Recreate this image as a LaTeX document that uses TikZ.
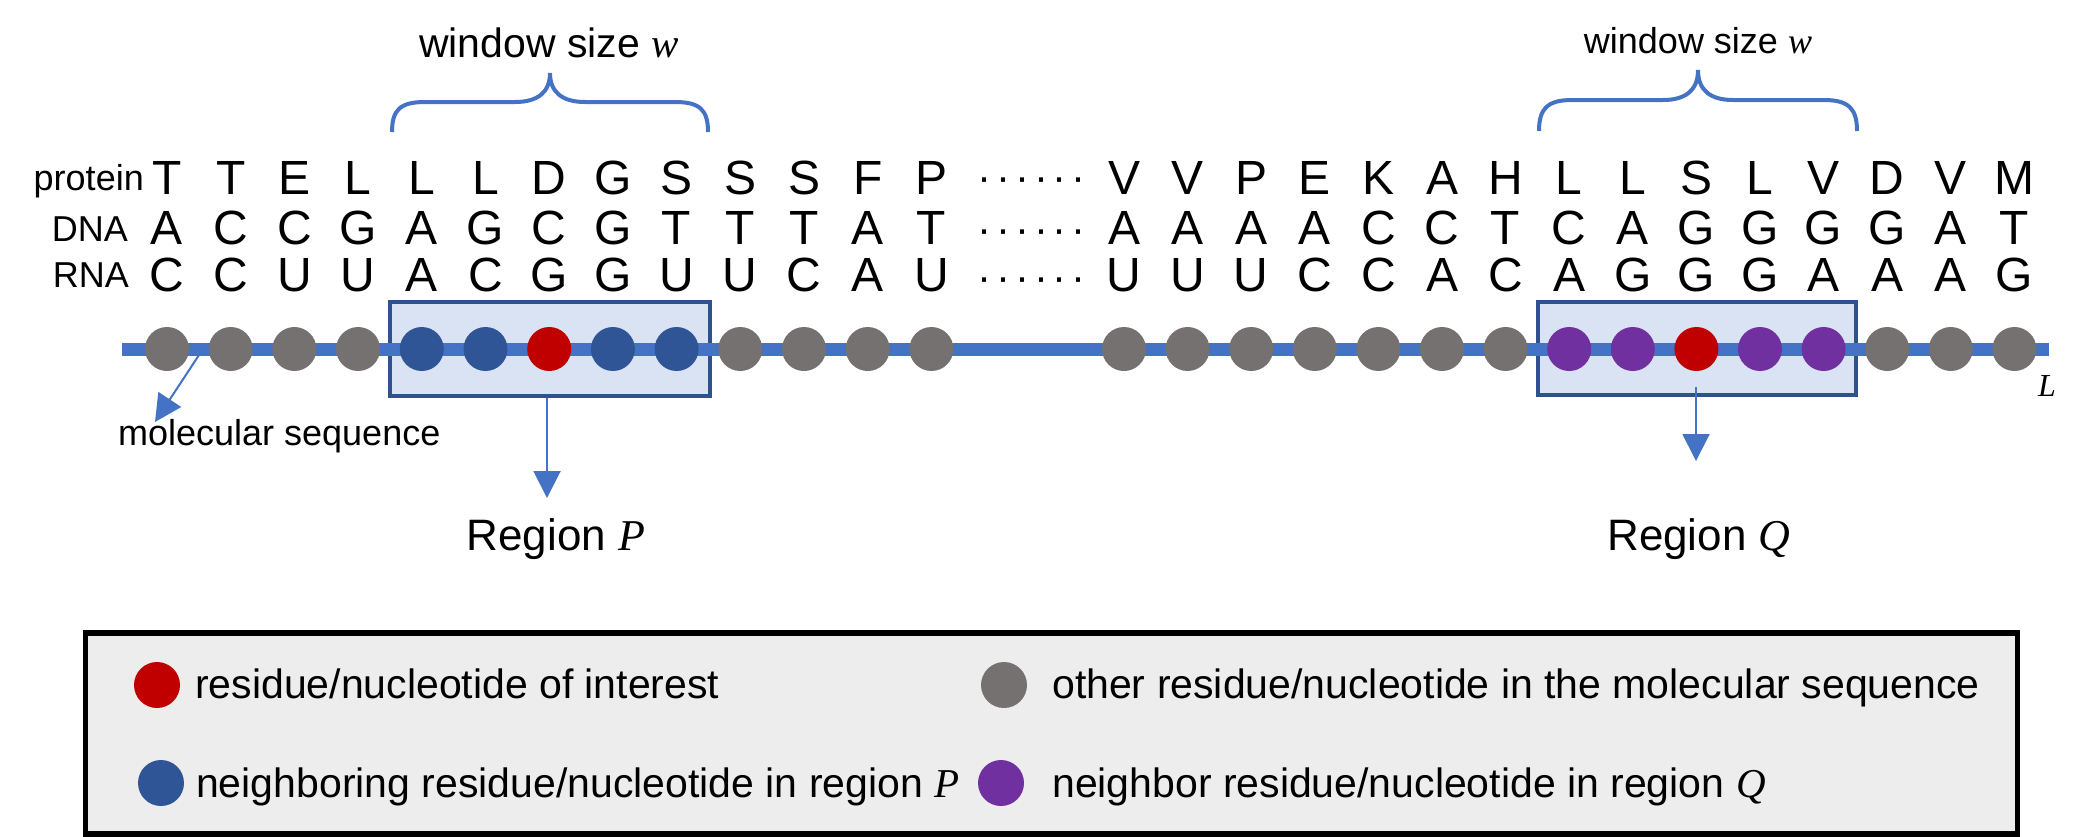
\documentclass[tikz,border=0pt]{standalone}
\usepackage{fontspec}
\setmainfont{Liberation Sans}
\newfontfamily\tmsfont{Liberation Serif}
\usetikzlibrary{arrows.meta}
\definecolor{lineblue}{HTML}{4472C4}
\definecolor{dotgray}{HTML}{767171}
\definecolor{nbblue}{HTML}{2F5597}
\definecolor{nbpurple}{HTML}{7030A0}
\definecolor{poired}{HTML}{C00000}
\definecolor{boxfill}{HTML}{DAE3F3}
\definecolor{boxedge}{HTML}{2F528F}
\definecolor{legfill}{HTML}{EDEDED}
\newcommand\mydotgap{\kern5pt}
\newcommand\mydots{·\mydotgap·\mydotgap·\mydotgap·\mydotgap·\mydotgap·}
\tikzset{
 seqletter/.style={inner sep=0pt, anchor=base, font=\fontsize{48}{56}\selectfont},
 rowlabel/.style={inner sep=0pt, anchor=base east, font=\fontsize{36}{42}\selectfont},
 bead/.style={circle, inner sep=0pt, minimum size=44pt, fill=#1},
 legbead/.style={circle, inner sep=0pt, minimum size=46pt, fill=#1},
 winbox/.style={draw=boxedge, line width=4pt, fill=boxfill, inner sep=0pt},
 bracepath/.style={draw=lineblue, line width=4pt},
 pointer/.style={draw=lineblue, line width=2pt, -{Triangle[length=27pt,width=27pt]}},
 legtext/.style={inner sep=0pt, anchor=base west, font=\fontsize{41}{48}\selectfont},
 dotrow/.style={inner sep=0pt, anchor=base, font=\fontsize{42}{46}\selectfont},
}
\begin{document}
\begin{tikzpicture}[x=1pt,y=-1pt]
\useasboundingbox (0,0) rectangle (2096,836);

% window boxes
\node[winbox, minimum width=320pt, minimum height=94pt] (boxP) at (550,349) {};
\node[winbox, minimum width=318pt, minimum height=93pt] (boxQ) at (1697,348.5) {};

% sequence line
\coordinate (seqstart) at (122,349);
\coordinate (seqend) at (2049,349);
\draw[lineblue, line width=13pt] (seqstart) -- (seqend);

% row labels
\node[rowlabel] (lblprot) at (144,190) {protein};
\node[rowlabel] (lbldna) at (128,241) {DNA};
\node[rowlabel] (lblrna) at (129,287) {RNA};

% left segment
\foreach \pr/\dn/\rn/\col [count=\i from 0] in {T/A/C/dotgray, T/C/C/dotgray, E/C/U/dotgray, L/G/U/dotgray, L/A/A/nbblue, L/G/C/nbblue, D/C/G/poired, G/G/G/nbblue, S/T/U/nbblue, S/T/U/dotgray, S/T/C/dotgray, F/A/A/dotgray, P/T/U/dotgray}{
  \pgfmathsetmacro\xx{167+63.7*\i}
  \node[seqletter] (lp\i) at (\xx,194) {\pr};
  \node[seqletter] (ld\i) at (\xx,244) {\dn};
  \node[seqletter] (lr\i) at (\xx,291) {\rn};
  \node[bead=\col] (lc\i) at (\xx,349) {};
}

% right segment
\foreach \pr/\dn/\rn/\col [count=\i from 0] in {V/A/U/dotgray, V/A/U/dotgray, P/A/U/dotgray, E/A/C/dotgray, K/C/C/dotgray, A/C/A/dotgray, H/T/C/dotgray, L/C/A/nbpurple, L/A/G/nbpurple, S/G/G/poired, L/G/G/nbpurple, V/G/A/nbpurple, D/G/A/dotgray, V/A/A/dotgray, M/T/G/dotgray}{
  \pgfmathsetmacro\xx{1124+63.6*\i}
  \node[seqletter] (rp\i) at (\xx,194) {\pr};
  \node[seqletter] (rd\i) at (\xx,244) {\dn};
  \node[seqletter] (rr\i) at (\xx,291) {\rn};
  \node[bead=\col] (rc\i) at (\xx,349) {};
}

% ellipsis dots
\node[dotrow] (dotsp) at (1031.5,191) {\mydots};
\node[dotrow] (dotsd) at (1031.5,243) {\mydots};
\node[dotrow] (dotsr) at (1031.5,291) {\mydots};

% braces
\draw[bracepath] (392,132) .. controls (392,110) and (400,102) .. (425,102) -- (515,102)
  .. controls (538,102) and (550,92) .. (550,73)
  .. controls (550,92) and (562,102) .. (585,102) -- (675,102)
  .. controls (700,102) and (708,110) .. (708,132);
\draw[bracepath] (1539,131) .. controls (1539,109) and (1547,100) .. (1572,100) -- (1663,100)
  .. controls (1686,100) and (1698,90) .. (1698,70)
  .. controls (1698,90) and (1710,100) .. (1733,100) -- (1824,100)
  .. controls (1849,100) and (1857,109) .. (1857,131);
\node[inner sep=0pt, anchor=base, font=\fontsize{41}{48}\selectfont] (winP) at (549,57) {window size {\tmsfont\itshape w}};
\node[inner sep=0pt, anchor=base, font=\fontsize{36}{44}\selectfont] (winQ) at (1698,53) {window size {\tmsfont\itshape w}};

% molecular sequence pointer
\coordinate (msstart) at (199,355);
\coordinate (msend) at (155,422);
\draw[pointer] (msstart) -- (msend);
\node[inner sep=0pt, anchor=base west, font=\fontsize{36}{42}\selectfont] (mslabel) at (118,445) {molecular sequence};

% region pointers
\coordinate (regPend) at (547,498);
\coordinate (regQstart) at (1696,387);
\coordinate (regQend) at (1696,461);
\draw[pointer] (boxP.south -| regPend) -- (regPend);
\draw[pointer] (regQstart) -- (regQend);
\node[inner sep=0pt, anchor=base, font=\fontsize{44}{52}\selectfont] (regP) at (556,550) {Region {\tmsfont\itshape P}};
\node[inner sep=0pt, anchor=base, font=\fontsize{44}{52}\selectfont] (regQ) at (1699,550) {Region {\tmsfont\itshape Q}};
\node[inner sep=0pt, font=\fontsize{32}{38}\selectfont\tmsfont\itshape] (Llabel) at (2047,386) {L};

% legend
\node[draw=black, line width=5.5pt, fill=legfill, inner sep=0pt, minimum width=1932pt, minimum height=201pt] (legend) at (1051.5,733.5) {};
\node[legbead=poired] (legred) at (157,685) {};
\node[legtext] (legredtxt) at (195,698) {residue/nucleotide of interest};
\node[legbead=dotgray] (leggray) at (1004,685) {};
\node[legtext] (leggraytxt) at (1052,698) {other residue/nucleotide in the molecular sequence};
\node[legbead=nbblue] (legblue) at (161,783) {};
\node[legtext] (legbluetxt) at (196,797) {neighboring residue/nucleotide in region {\tmsfont\itshape P}};
\node[legbead=nbpurple] (legpurple) at (1001,783) {};
\node[legtext] (legpurpletxt) at (1052,797) {neighbor residue/nucleotide in region {\tmsfont\itshape Q}};
\end{tikzpicture}
\end{document}
